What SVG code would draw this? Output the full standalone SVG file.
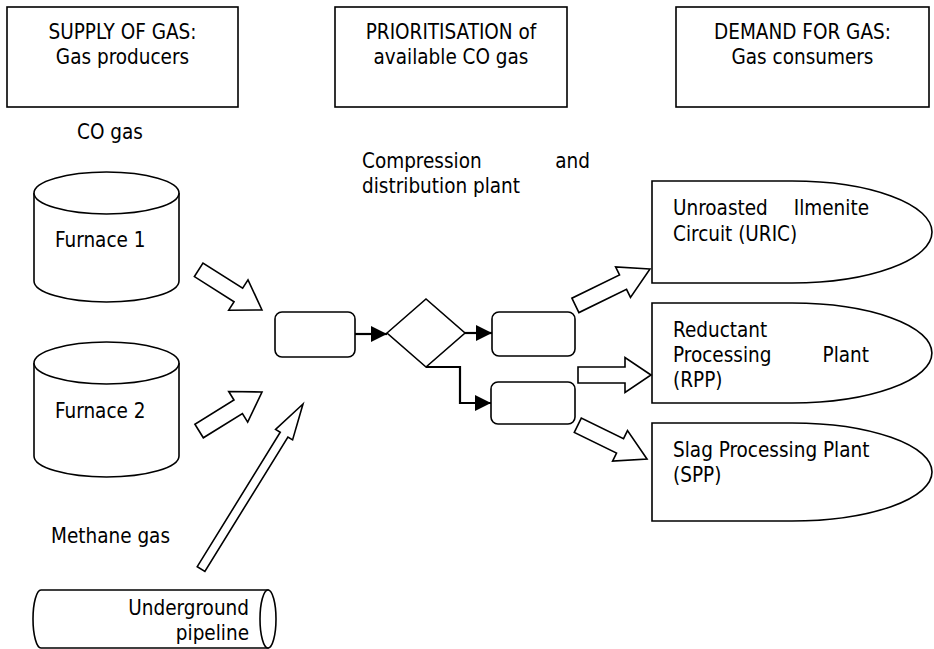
<svg xmlns="http://www.w3.org/2000/svg" width="934" height="649" viewBox="0 0 934 649">
<defs>
<style>
text{font-family:"DejaVu Sans Condensed","DejaVu Sans","Liberation Sans",sans-serif;font-stretch:condensed;font-size:20.5px;fill:#000}
.c{text-anchor:middle}
.e{text-anchor:end}
.s{fill:#fff;stroke:#000;stroke-width:1.6}
.ln{fill:none;stroke:#000;stroke-width:2.2}
.ba{fill:#fff;stroke:#000;stroke-width:1.6;stroke-linejoin:miter}
</style>
<marker id="ah" markerUnits="userSpaceOnUse" markerWidth="18" markerHeight="16" refX="16" refY="8" orient="auto">
<path d="M0,0 L16,8 L0,16 Z" fill="#000"/>
</marker>
</defs>
<rect width="934" height="649" fill="#fff"/>

<g id="supply-header">
<rect class="s" x="7" y="7" width="231" height="100"/>
<text class="c" x="122.5" y="39">SUPPLY OF GAS:</text>
<text class="c" x="122.5" y="64">Gas producers</text>
</g>
<g id="prioritisation-header">
<rect class="s" x="335" y="7" width="232" height="100"/>
<text class="c" x="451" y="39">PRIORITISATION of</text>
<text class="c" x="451" y="64">available CO gas</text>
</g>
<g id="demand-header">
<rect class="s" x="676" y="7" width="253" height="100"/>
<text class="c" x="802.5" y="39">DEMAND FOR GAS:</text>
<text class="c" x="802.5" y="64">Gas consumers</text>
</g>

<g id="co-gas-label"><text x="77" y="139">CO gas</text></g>
<g id="compression-label">
<text x="362" y="168">Compression</text>
<text class="e" x="590" y="168">and</text>
<text x="362" y="193">distribution plant</text>
</g>

<g id="furnace1">
<path class="s" d="M34,193 V281 A72.5,21 0 0 0 179,281 V193"/>
<ellipse class="s" cx="106.5" cy="193" rx="72.5" ry="21"/>
<text x="55" y="247">Furnace 1</text>
</g>
<g id="furnace2">
<path class="s" d="M34,363 V456 A72.5,21 0 0 0 179,456 V363"/>
<ellipse class="s" cx="106.5" cy="363" rx="72.5" ry="21"/>
<text x="55" y="418">Furnace 2</text>
</g>

<g id="methane-label"><text x="51" y="543">Methane gas</text></g>
<g id="pipeline">
<path class="s" d="M41,590 H268 V648 H41 A8,29 0 0 1 41,590 Z"/>
<ellipse class="s" cx="268" cy="619" rx="8" ry="29"/>
<text class="e" x="249" y="615">Underground</text>
<text class="e" x="249" y="640">pipeline</text>
</g>

<g id="compressor"><rect class="s" x="275" y="312" width="80" height="45" rx="7"/></g>
<g id="decision"><polygon class="s" points="387,333 426,299 465,333 426,367"/></g>
<g id="distributor1"><rect class="s" x="492" y="312" width="83" height="44" rx="7"/></g>
<g id="distributor2"><rect class="s" x="491" y="382" width="84" height="42" rx="7"/></g>

<g id="uric">
<path class="s" d="M652,181 H792 A140,51 0 0 1 792,283 H652 Z"/>
<text x="673" y="215">Unroasted</text>
<text class="e" x="869" y="215">Ilmenite</text>
<text x="673" y="241">Circuit (URIC)</text>
</g>
<g id="rpp">
<path class="s" d="M652,303 H792 A140,50 0 0 1 792,403 H652 Z"/>
<text x="673" y="337">Reductant</text>
<text x="673" y="362">Processing</text>
<text class="e" x="869" y="362">Plant</text>
<text x="673" y="387">(RPP)</text>
</g>
<g id="spp">
<path class="s" d="M652,423 H792 A140,49 0 0 1 792,521 H652 Z"/>
<text x="673" y="457">Slag Processing Plant</text>
<text x="673" y="482">(SPP)</text>
</g>

<g id="connectors">
<polygon class="ba" transform="translate(262,310) rotate(32.4)" points="0,0 -28,-18 -28,-8 -75,-8 -75,8 -28,8 -28,18"/>
<polygon class="ba" transform="translate(262,392) rotate(-31.8)" points="0,0 -28,-18 -28,-8 -74,-8 -74,8 -28,8 -28,18"/>
<polygon class="ba" transform="translate(303,404) rotate(-58.3)" points="0,0 -36,-10 -36,-4.5 -194,-4.5 -194,4.5 -36,4.5 -36,10"/>
<polygon class="ba" transform="translate(650,269) rotate(-26)" points="0,0 -30,-17 -30,-8 -83,-8 -83,8 -30,8 -30,17"/>
<polygon class="ba" transform="translate(651,375) rotate(0)" points="0,0 -26,-17.5 -26,-8 -73,-8 -73,8 -26,8 -26,17.5"/>
<polygon class="ba" transform="translate(647,459) rotate(26)" points="0,0 -30,-17 -30,-8 -77,-8 -77,8 -30,8 -30,17"/>
<path class="ln" d="M355,334 H387" marker-end="url(#ah)"/>
<path class="ln" d="M465,333 H492" marker-end="url(#ah)"/>
<path class="ln" d="M426,367 H460 V403 H491" marker-end="url(#ah)"/>
</g>
</svg>
